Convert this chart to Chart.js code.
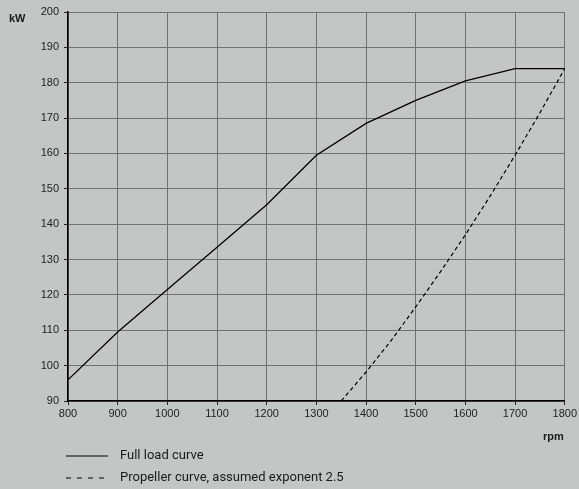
<!DOCTYPE html>
<html>
<head>
<meta charset="utf-8">
<script src="https://cdn.jsdelivr.net/npm/chart.js@4.4.0/dist/chart.umd.min.js"></script>
<style>
  html, body { margin: 0; padding: 0; background: #c2c7c6; }
  #wrap { width: 579px; height: 489px; position: relative; }
</style>
</head>
<body>
<div id="wrap"><canvas id="chart" width="579" height="489"></canvas></div>
<script>
// rpm / kW
const fullLoadRpm = [800, 900, 1000, 1100, 1200, 1300, 1400, 1500, 1600, 1700, 1800];
const fullLoadKw  = [96, 109.5, 121.5, 133.5, 145.5, 159.5, 168.5, 175, 180.5, 184, 184];

const propRpm = [1350, 1400, 1450, 1500, 1550, 1600, 1650, 1700, 1750, 1800];
const propKw  = [90, 98.2, 107, 116.6, 126.6, 137, 148, 159.5, 171.5, 184];

const xTicks = [800, 900, 1000, 1100, 1200, 1300, 1400, 1500, 1600, 1700, 1800];
const yTicks = [90, 100, 110, 120, 130, 140, 150, 160, 170, 180, 190, 200];

const legendLabels = ['Full load curve', 'Propeller curve, assumed exponent 2.5'];
const legendDashes = [[], [5, 6]];

const FONT = '"Liberation Sans", Arial, sans-serif';

// Axis captions and legend drawn on the canvas
const extrasPlugin = {
    id: 'extras',
    afterDraw(chart) {
        const ctx = chart.ctx;
        const area = chart.chartArea;
        ctx.save();
        ctx.fillStyle = '#1a1a1a';
        ctx.font = 'bold 11px ' + FONT;
        ctx.textBaseline = 'middle';
        ctx.textAlign = 'left';
        ctx.fillText('kW', 9, area.top + 7);
        ctx.textAlign = 'right';
        ctx.fillText('rpm', area.right - 1, area.bottom + 36);

        // legend
        ctx.font = '13px Roboto, ' + FONT;
        ctx.textAlign = 'left';
        legendLabels.forEach((label, i) => {
            const y = 456 + i * 22;
            ctx.beginPath();
            ctx.strokeStyle = '#000';
            ctx.lineWidth = 1.2;
            ctx.setLineDash(legendDashes[i]);
            ctx.moveTo(66, y);
            ctx.lineTo(108, y);
            ctx.stroke();
            ctx.setLineDash([]);
            ctx.fillText(label, 120, y);
        });
        ctx.restore();
    }
};

const ctx = document.getElementById('chart').getContext('2d');
new Chart(ctx, {
    type: 'line',
    data: {
        datasets: [
            {
                label: legendLabels[0],
                data: fullLoadRpm.map((r, i) => ({ x: r, y: fullLoadKw[i] })),
                borderColor: '#000',
                borderWidth: 1.3,
                pointRadius: 0,
                tension: 0
            },
            {
                label: legendLabels[1],
                data: propRpm.map((r, i) => ({ x: r, y: propKw[i] })),
                borderColor: '#000',
                borderWidth: 1.2,
                borderDash: [4, 3],
                pointRadius: 0,
                tension: 0
            }
        ]
    },
    options: {
        responsive: false,
        devicePixelRatio: 1,
        animation: false,
        layout: { padding: { top: 12, right: 13, left: 0, bottom: 0 } },
        plugins: {
            legend: { display: false },
            tooltip: { enabled: false }
        },
        scales: {
            x: {
                type: 'linear',
                min: 800,
                max: 1800,
                afterBuildTicks: scale => { scale.ticks = xTicks.map(v => ({ value: v })); },
                afterFit: scale => { scale.height = 88; },
                ticks: {
                    color: '#222',
                    font: { family: FONT, size: 11 },
                    padding: 2,
                    maxRotation: 0,
                    autoSkip: false,
                    callback: v => String(v)
                },
                grid: { color: '#6e7271', lineWidth: 1, tickLength: 4, tickColor: '#222' },
                border: { color: '#000', width: 1.5 }
            },
            y: {
                type: 'linear',
                min: 90,
                max: 200,
                afterBuildTicks: scale => { scale.ticks = yTicks.map(v => ({ value: v })); },
                afterFit: scale => { scale.width = 68; },
                ticks: {
                    color: '#222',
                    font: { family: FONT, size: 11 },
                    padding: 5,
                    autoSkip: false,
                    callback: v => String(v)
                },
                grid: { color: '#6e7271', lineWidth: 1, tickLength: 4, tickColor: '#222' },
                border: { color: '#000', width: 1.5 }
            }
        }
    },
    plugins: [extrasPlugin]
});
</script>
</body>
</html>
